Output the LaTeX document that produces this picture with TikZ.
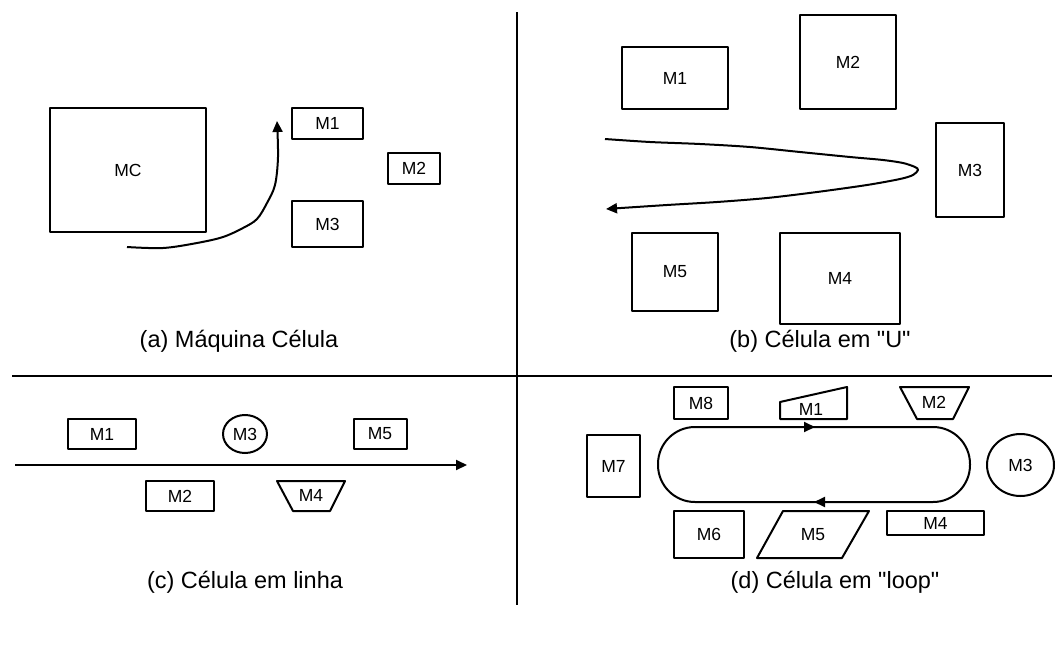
\documentclass[tikz,border=0pt]{standalone}
\usepackage{fontspec}
\setmainfont{Liberation Sans}[Ligatures=TeXOff]
\usetikzlibrary{arrows.meta,shapes.geometric}
\begin{document}
\begin{tikzpicture}[x=1pt,y=-1pt,line width=2pt,line join=round,
  mtext/.style={font=\fontsize{17.5}{20}\selectfont,inner sep=0pt},
  mbox/.style={draw,line width=2pt,inner sep=0pt,font=\fontsize{17.5}{20}\selectfont},
  oval/.style={draw,ellipse,line width=2pt,inner sep=0pt,font=\fontsize{17.5}{20}\selectfont},
  caption/.style={font=\fontsize{23.5}{27}\selectfont,inner sep=0pt},
  arr/.style={-{Triangle[length=11pt,width=10pt]}}]
\useasboundingbox (0,0) rectangle (1058,651);
% dividers
\coordinate (vtop) at (517,12);
\coordinate (vbot) at (517,605);
\coordinate (hl) at (12,376);
\coordinate (hr) at (1052,376);
\draw (vtop) -- (vbot);
\draw (hl) -- (hr);

% ---------- (a) ----------
\node[mbox,minimum width=156pt,minimum height=124pt] (aMC) at (128,170) {MC};
\node[mbox,minimum width=71pt,minimum height=31pt] (aM1) at (327.5,123.5) {M1};
\node[mbox,minimum width=52pt,minimum height=31pt] (aM2) at (414,168.5) {M2};
\node[mbox,minimum width=71pt,minimum height=46pt] (aM3) at (327.5,224) {M3};
\draw[arr] plot[smooth,tension=0.55] coordinates {(127,247) (163,248) (197,243) (223,237) (243,228) (257,219) (267,203) (275,185) (278,157) (277,121)};
\node[caption] (capa) at (239,341) {(a) Máquina Célula};

% ---------- (b) ----------
\node[mbox,minimum width=106pt,minimum height=62pt] (bM1) at (675,78) {M1};
\node[mbox,minimum width=96pt,minimum height=94pt] (bM2) at (848,62) {M2};
\node[mbox,minimum width=68pt,minimum height=94pt] (bM3) at (970,170) {M3};
\node[mbox,minimum width=86pt,minimum height=78pt] (bM5) at (675,272) {M5};
\node[mbox,minimum width=120pt,minimum height=91pt] (bM4) at (840,278.5) {M4};
\draw[arr] plot[smooth,tension=0.5] coordinates {(605,139) (650,142) (700,144) (750,147) (800,152) (850,157) (883,160) (903,163) (915,167) (918,170) (913,175) (900,179) (867,185) (817,192) (767,198) (717,202) (667,205) (606,209)};
\node[caption] (capb) at (820,341) {(b) Célula em "U"};

% ---------- (c) ----------
\node[mbox,minimum width=68pt,minimum height=30pt] (cM1) at (102,434) {M1};
\node[oval,minimum width=44pt,minimum height=38pt] (cM3) at (245,434) {M3};
\node[mbox,minimum width=53pt,minimum height=30pt] (cM5) at (380,434) {M5};
\coordinate (c0) at (15,465);
\coordinate (c1) at (467,465);
\draw[arr] (c0) -- (c1);
\node[mbox,minimum width=68pt,minimum height=30pt] (cM2) at (180,496) {M2};
\draw (277,481) -- (345,481) -- (330,511) -- (293,511) -- cycle;
\node[mtext] (cM4) at (311,495) {M4};
\node[caption] (capc) at (245,582) {(c) Célula em linha};

% ---------- (d) ----------
\node[mbox,minimum width=54pt,minimum height=32pt] (dM8) at (701,403) {M8};
\draw (780,419) -- (780,402) -- (847,387) -- (847,419) -- cycle;
\node[mtext] (dM1) at (811,409) {M1};
\draw (900,387) -- (969,387) -- (953,419) -- (917,419) -- cycle;
\node[mtext] (dM2) at (934,402) {M2};
\node[mbox,minimum width=53pt,minimum height=62pt] (dM7) at (613.5,466) {M7};
\node[oval,minimum width=67pt,minimum height=62pt] (dM3) at (1020.5,465) {M3};
\draw[rounded corners=37pt] (658,427) rectangle (970,502);
\coordinate (t0) at (795,427);
\coordinate (t1) at (815,427);
\draw[arr] (t0) -- (t1);
\coordinate (b0) at (845,502);
\coordinate (b1) at (814,502);
\draw[arr] (b0) -- (b1);
\node[mbox,minimum width=70pt,minimum height=47pt] (dM6) at (709,534.5) {M6};
\draw (783,511) -- (869,511) -- (842,558) -- (757,558) -- cycle;
\node[mtext] (dM5) at (813,535) {M5};
\node[mbox,minimum width=97pt,minimum height=24pt] (dM4) at (935.5,523) {M4};
\node[caption] (capd) at (835,582) {(d) Célula em "loop"};
\end{tikzpicture}
\end{document}
